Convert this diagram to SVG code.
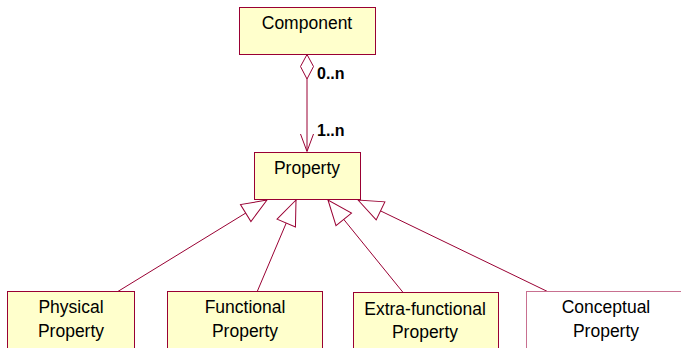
<svg xmlns="http://www.w3.org/2000/svg" width="681" height="348" viewBox="0 0 681 348">
<defs>
<style>
.box{fill:#FFFFCC;stroke:#990033;stroke-width:1}
.box2{fill:#FFFFFF;stroke:#C87090;stroke-width:1}
.lbl{font-family:"Liberation Sans",Arial,sans-serif;font-size:17.5px;fill:#000;text-anchor:middle}
.mult{font-family:"Liberation Sans",Arial,sans-serif;font-size:16px;font-weight:bold;fill:#000}
.ln{stroke:#990033;stroke-width:1;fill:none}
</style>
<marker id="gen" markerUnits="userSpaceOnUse" markerWidth="30" markerHeight="24" viewBox="-27 -12 30 24" refX="0" refY="0" orient="auto">
<path d="M0,0 L-25,-10 L-25,10 Z" fill="#FFFFFF" stroke="#990033" stroke-width="1"/>
</marker>
</defs>
<rect width="681" height="348" fill="#FFFFFF"/>
<g id="connectors">
<line class="ln" x1="307" y1="79" x2="307" y2="151"/>
<polygon points="307,54.5 313.5,66.5 307,79 300.5,66.5" fill="#FFFFFF" stroke="#990033" stroke-width="1"/>
<polyline class="ln" points="300.5,134 307,151.5 313.5,134"/>
<line class="ln" x1="117" y1="292" x2="267" y2="200" marker-end="url(#gen)"/>
<line class="ln" x1="257" y1="292" x2="296" y2="200" marker-end="url(#gen)"/>
<line class="ln" x1="403.5" y1="293" x2="328" y2="200" marker-end="url(#gen)"/>
<line class="ln" x1="548.5" y1="292" x2="358" y2="200" marker-end="url(#gen)"/>
<text class="mult" x="317" y="79">0..n</text>
<text class="mult" x="317" y="136">1..n</text>
</g>
<g id="component">
<rect class="box" x="239.5" y="7.5" width="136" height="47"/>
<text class="lbl" x="307" y="29">Component</text>
</g>
<g id="property">
<rect class="box" x="254.5" y="152.5" width="106" height="47"/>
<text class="lbl" x="307" y="174">Property</text>
</g>
<g id="physical">
<rect class="box" x="7.5" y="291.5" width="127" height="70"/>
<text class="lbl" x="71" y="313">Physical</text>
<text class="lbl" x="71" y="337">Property</text>
</g>
<g id="functional">
<rect class="box" x="167.5" y="291.5" width="155" height="70"/>
<text class="lbl" x="245" y="313">Functional</text>
<text class="lbl" x="245" y="337">Property</text>
</g>
<g id="extrafunctional">
<rect class="box" x="353.5" y="292.5" width="145" height="70"/>
<text class="lbl" x="425" y="315">Extra-functional</text>
<text class="lbl" x="425" y="338">Property</text>
</g>
<g id="conceptual">
<rect class="box2" x="526.5" y="291.5" width="170" height="70"/>
<text class="lbl" x="606" y="313">Conceptual</text>
<text class="lbl" x="606" y="337">Property</text>
</g>
</svg>
